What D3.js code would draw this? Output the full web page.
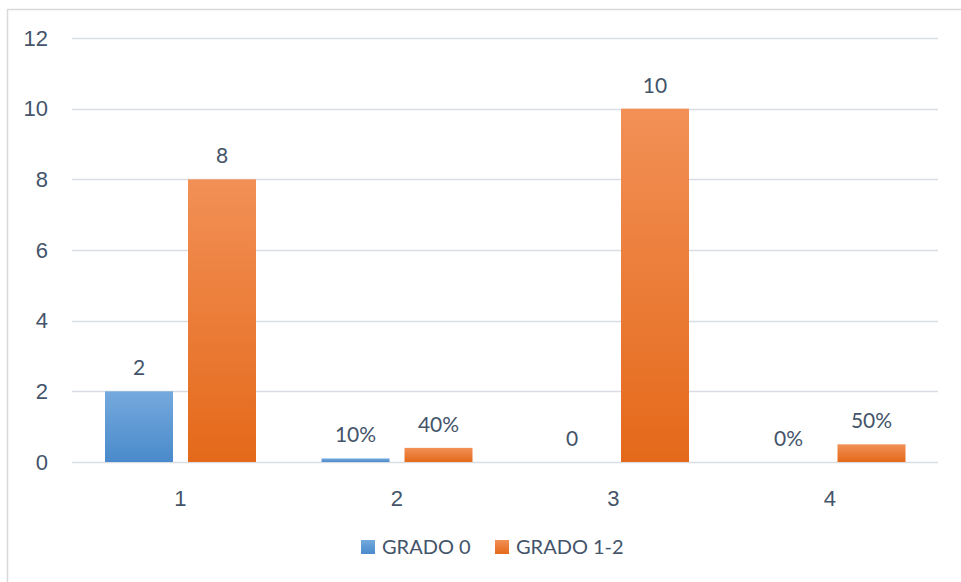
<!DOCTYPE html>
<html>
<head>
<meta charset="utf-8">
<script src="https://cdn.jsdelivr.net/npm/d3@7"></script>
<style>
  body { margin: 0; background: #fff; }
  svg { display: block; font-family: Lato, "Open Sans", "Noto Sans", sans-serif; }
</style>
</head>
<body>
<svg id="chart" width="961" height="582"></svg>
<script>
const categories = ["1", "2", "3", "4"];
const seriesNames = ["GRADO 0", "GRADO 1-2"];
const grado0 = [2, 0.1, 0, 0];
const grado12 = [8, 0.4, 10, 0.5];
const grado0Labels = ["2", "10%", "0", "0%"];
const grado12Labels = ["8", "40%", "10", "50%"];
const yTicks = [0, 2, 4, 6, 8, 10, 12];

const svg = d3.select("#chart");
const textColor = "#44546A";
const gridColor = "#D9DDE3";
const fontSize = "22px";
const margin = { top: 38, bottom: 120, left: 72, right: 23 };
const width = +svg.attr("width") - margin.left - margin.right;
const height = +svg.attr("height") - margin.top - margin.bottom;

// chart border
svg.append("rect")
  .attr("x", 7.5).attr("y", 9.5)
  .attr("width", 1000).attr("height", 1000)
  .attr("fill", "none")
  .attr("stroke", "#D9D9D9")
  .attr("stroke-width", 1.5);

// gradients
const defs = svg.append("defs");
const grads = [
  { id: "g0", top: "#74A9DD", bottom: "#4A8ACB" },
  { id: "g1", top: "#F29056", bottom: "#E4691A" }
];
grads.forEach(g => {
  const lg = defs.append("linearGradient").attr("id", g.id)
    .attr("x1", 0).attr("y1", 0).attr("x2", 0).attr("y2", 1);
  lg.append("stop").attr("offset", "0%").attr("stop-color", g.top);
  lg.append("stop").attr("offset", "100%").attr("stop-color", g.bottom);
});

const chart = svg.append("g").attr("transform", `translate(${margin.left},${margin.top})`);

const x = d3.scaleBand().domain(categories).range([0, width]);
// two bars of 68px with a 15px gap, group offset 33px inside each band
const x1 = d3.scaleBand().domain(seriesNames).range([33, 33 + 151]).paddingInner(15 / 83);
const y = d3.scaleLinear().domain([0, 12]).range([height, 0]);

// gridlines
chart.append("g")
  .selectAll("line")
  .data(yTicks)
  .enter()
  .append("line")
  .attr("x1", 0).attr("x2", width)
  .attr("y1", d => Math.round(y(d)) + 0.5)
  .attr("y2", d => Math.round(y(d)) + 0.5)
  .attr("stroke", gridColor)
  .attr("stroke-width", 1.5);

// y axis labels
const yAxis = chart.append("g")
  .attr("transform", "translate(-24,0)")
  .call(d3.axisLeft(y).tickValues(yTicks).tickSize(0).tickPadding(0));
yAxis.select(".domain").remove();
yAxis.selectAll("text")
  .attr("fill", textColor)
  .style("font-size", fontSize);

// x axis labels
const xAxis = chart.append("g")
  .attr("transform", `translate(0,${height + 28})`)
  .call(d3.axisBottom(x).tickSize(0).tickPadding(0));
xAxis.select(".domain").remove();
xAxis.selectAll("text")
  .attr("fill", textColor)
  .style("font-size", fontSize);

// bars
const data = categories.map((c, i) => ({
  cat: c,
  vals: [
    { s: 0, name: seriesNames[0], v: grado0[i], label: grado0Labels[i] },
    { s: 1, name: seriesNames[1], v: grado12[i], label: grado12Labels[i] }
  ]
}));

const groups = chart.selectAll(".grp")
  .data(data)
  .enter()
  .append("g")
  .attr("class", "grp")
  .attr("transform", d => `translate(${x(d.cat)},0)`);

groups.selectAll("rect")
  .data(d => d.vals)
  .enter()
  .append("rect")
  .attr("x", d => x1(d.name))
  .attr("width", x1.bandwidth())
  .attr("y", d => y(d.v))
  .attr("height", d => y(0) - y(d.v))
  .attr("fill", d => `url(#g${d.s})`);

groups.selectAll("text")
  .data(d => d.vals)
  .enter()
  .append("text")
  .attr("x", d => x1(d.name) + x1.bandwidth() / 2)
  .attr("y", d => y(d.v) - 16)
  .attr("text-anchor", "middle")
  .attr("fill", textColor)
  .style("font-size", "21px")
  .text(d => d.label);

// legend
const legend = svg.append("g").attr("transform", "translate(361,540)");
const legendX = [0, 134];
seriesNames.forEach((name, i) => {
  const g = legend.append("g").attr("transform", `translate(${legendX[i]},0)`);
  g.append("rect").attr("width", 14).attr("height", 14).attr("fill", `url(#g${i})`);
  g.append("text").attr("x", 21).attr("y", 7).attr("dy", "0.35em")
    .attr("fill", textColor).style("font-size", "20px").text(name);
});
</script>
</body>
</html>
